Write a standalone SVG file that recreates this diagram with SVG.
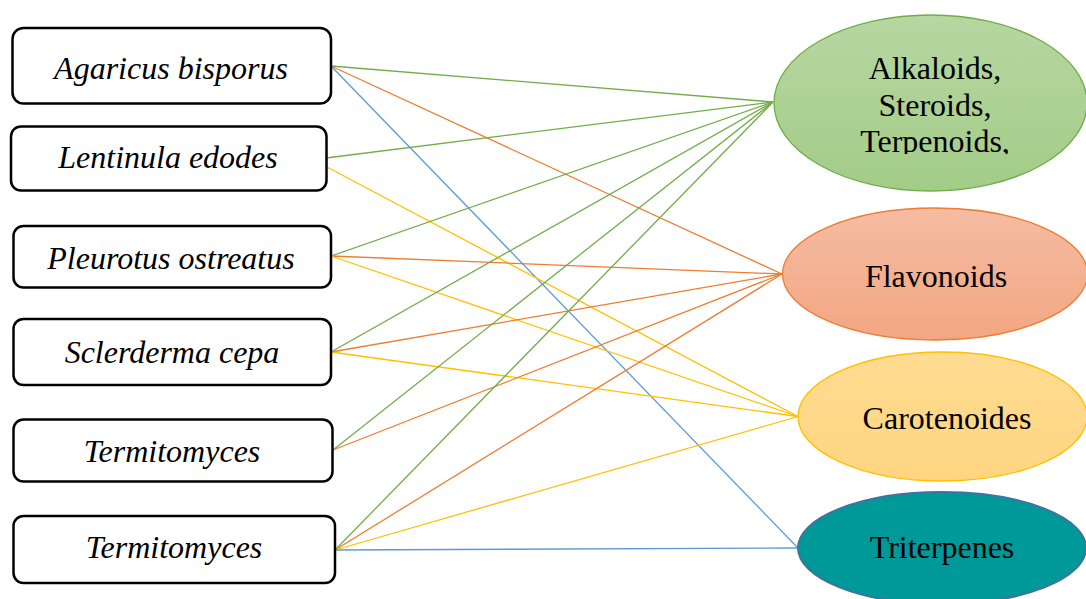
<svg xmlns="http://www.w3.org/2000/svg" width="1086" height="599" viewBox="0 0 1086 599">
<style>
.box{fill:#fff;stroke:#000;stroke-width:2.5}
.lbl{font-family:"Liberation Serif","Times New Roman",serif;font-style:italic;font-size:32px;fill:#000;text-anchor:middle}
.elb{font-family:"Liberation Serif","Times New Roman",serif;font-size:32px;fill:#000;text-anchor:middle}
.g{stroke:#70ad47}.o{stroke:#ed7d31}.y{stroke:#ffc000}.b{stroke:#5b9bd5}
#connectors line{stroke-width:1.3;fill:none}
</style>
<defs>
<linearGradient id="gg" x1="0" y1="0" x2="0" y2="1"><stop offset="0" stop-color="#b7d7a2"/><stop offset="1" stop-color="#a3cc88"/></linearGradient>
<linearGradient id="og" x1="0" y1="0" x2="0" y2="1"><stop offset="0" stop-color="#f5bca3"/><stop offset="1" stop-color="#f3a682"/></linearGradient>
<linearGradient id="yg" x1="0" y1="0" x2="0" y2="1"><stop offset="0" stop-color="#ffdc92"/><stop offset="1" stop-color="#ffd580"/></linearGradient>
<clipPath id="c1"><rect x="780" y="0" width="306" height="154"/></clipPath>
</defs>
<rect width="1086" height="599" fill="#fff"/>
<g id="connectors">
<line class="g" x1="331" y1="66" x2="773" y2="102"/>
<line class="o" x1="331" y1="66" x2="782" y2="274"/>
<line class="b" x1="331" y1="66" x2="798" y2="548"/>
<line class="g" x1="326" y1="158" x2="773" y2="102"/>
<line class="y" x1="326" y1="166.5" x2="798" y2="416.5"/>
<line class="g" x1="331" y1="256" x2="773" y2="102"/>
<line class="o" x1="331" y1="256" x2="782" y2="274"/>
<line class="y" x1="331" y1="256" x2="798" y2="416.5"/>
<line class="g" x1="331" y1="352" x2="773" y2="102"/>
<line class="o" x1="331" y1="352" x2="782" y2="274"/>
<line class="y" x1="331" y1="352" x2="798" y2="416.5"/>
<line class="g" x1="333" y1="450" x2="773" y2="102"/>
<line class="o" x1="333" y1="450" x2="782" y2="274"/>
<line class="g" x1="335" y1="550" x2="773" y2="102"/>
<line class="o" x1="335" y1="550" x2="782" y2="274"/>
<line class="y" x1="335" y1="550" x2="798" y2="416.5"/>
<line class="b" x1="335" y1="550" x2="798" y2="548"/>
</g>
<g id="n1"><rect class="box" x="12.5" y="28" width="318.5" height="75.5" rx="11"/><text class="lbl" x="171" y="79">Agaricus bisporus</text></g>
<g id="n2"><rect class="box" x="11" y="126.5" width="315.5" height="64" rx="10"/><text class="lbl" x="168" y="168">Lentinula edodes</text></g>
<g id="n3"><rect class="box" x="13.5" y="226" width="317.5" height="61.5" rx="10"/><text class="lbl" x="171" y="269">Pleurotus ostreatus</text></g>
<g id="n4"><rect class="box" x="13.5" y="319" width="317.5" height="66" rx="10"/><text class="lbl" x="172" y="363">Sclerderma cepa</text></g>
<g id="n5"><rect class="box" x="13.5" y="419.5" width="319" height="62" rx="10"/><text class="lbl" x="172" y="461.5">Termitomyces</text></g>
<g id="n6"><rect class="box" x="13.5" y="516" width="321.5" height="67" rx="10"/><text class="lbl" x="174" y="558">Termitomyces</text></g>
<g id="e1"><ellipse cx="930.5" cy="103" rx="156.5" ry="88" fill="url(#gg)" stroke="#70ad47" stroke-width="1.3"/>
<g clip-path="url(#c1)"><text class="elb" x="935" y="79">Alkaloids,</text><text class="elb" x="935" y="115.5">Steroids,</text><text class="elb" x="935" y="152">Terpenoids,</text></g></g>
<g id="e2"><ellipse cx="935" cy="274" rx="152.5" ry="66" fill="url(#og)" stroke="#ed7d31" stroke-width="1.3"/><text class="elb" x="936" y="286.5">Flavonoids</text></g>
<g id="e3"><ellipse cx="942.5" cy="416.5" rx="144.5" ry="64.5" fill="url(#yg)" stroke="#ffc000" stroke-width="1.3"/><text class="elb" x="947" y="429">Carotenoides</text></g>
<g id="e4"><ellipse cx="942" cy="548" rx="144" ry="56" fill="#009999" stroke="#41719c" stroke-width="2"/><text class="elb" x="942" y="558">Triterpenes</text></g>
</svg>
